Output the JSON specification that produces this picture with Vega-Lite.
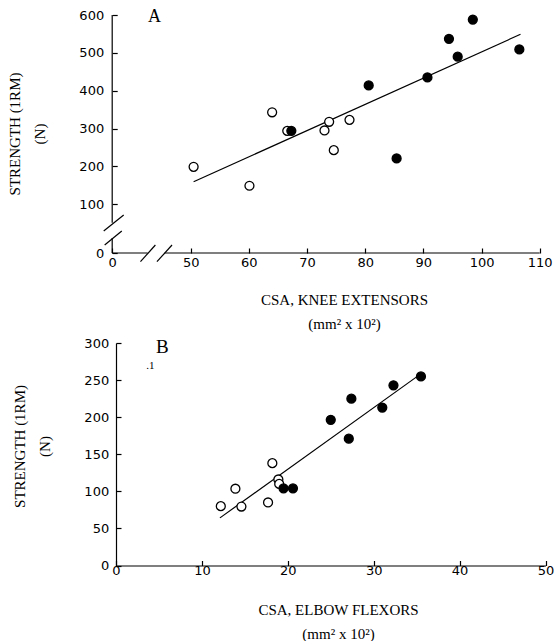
{
  "$schema": "https://vega.github.io/schema/vega-lite/v6.json",
  "background": "white",
  "padding": {"left": 7, "top": 7, "right": 0, "bottom": 0},
  "spacing": 6,
  "config": {
    "view": {"stroke": null},
    "axis": {
      "grid": false,
      "labelFont": "DejaVu Sans",
      "labelFontSize": 13,
      "labelColor": "black",
      "labelFlush": false,
      "titleFont": "Liberation Serif",
      "titleFontSize": 15,
      "titleFontWeight": "normal",
      "titleColor": "black",
      "titleLineHeight": 24,
      "domainColor": "black",
      "domainWidth": 1.2,
      "tickColor": "black",
      "tickWidth": 1.2,
      "tickSize": -5
    }
  },
  "datasets": {
    "kneePoints": [
      {"group": "open", "csa": 50.5, "strength": 199},
      {"group": "open", "csa": 60.1, "strength": 149},
      {"group": "open", "csa": 64.0, "strength": 343},
      {"group": "open", "csa": 66.6, "strength": 294},
      {"group": "open", "csa": 73.0, "strength": 295},
      {"group": "open", "csa": 73.8, "strength": 318},
      {"group": "open", "csa": 74.6, "strength": 243},
      {"group": "open", "csa": 77.3, "strength": 323},
      {"group": "filled", "csa": 67.3, "strength": 294},
      {"group": "filled", "csa": 80.6, "strength": 414},
      {"group": "filled", "csa": 85.4, "strength": 221},
      {"group": "filled", "csa": 90.7, "strength": 435},
      {"group": "filled", "csa": 94.4, "strength": 537},
      {"group": "filled", "csa": 95.9, "strength": 490},
      {"group": "filled", "csa": 98.5, "strength": 588},
      {"group": "filled", "csa": 106.5, "strength": 509}
    ],
    "kneeFit": [
      {"csa": 50.5, "strength": 159.7},
      {"csa": 106.7, "strength": 549}
    ],
    "kneeAxis": [
      {"part": "y axis low", "csa": 0, "strength": 0, "csa2": 0, "strength2": 31},
      {"part": "y axis high", "csa": 0, "strength": 62, "csa2": 0, "strength2": 600},
      {"part": "x axis left", "csa": 0, "strength": 0, "csa2": 22.6, "strength2": 0},
      {"part": "x axis right", "csa": 33.3, "strength": 0, "csa2": 110, "strength2": 0},
      {"part": "y break 1", "csa": -5.4, "strength": 45.2, "csa2": 7.3, "strength2": 78},
      {"part": "y break 2", "csa": -4.8, "strength": 16.4, "csa2": 6.1, "strength2": 45.2},
      {"part": "x break 1", "csa": 18.0, "strength": -17.9, "csa2": 27.5, "strength2": 16.4},
      {"part": "x break 2", "csa": 28.5, "strength": -17.9, "csa2": 38.1, "strength2": 16.4}
    ],
    "kneeText": [
      {"csa": 27, "strength": 595, "label": "A"}
    ],
    "elbowPoints": [
      {"group": "open", "csa": 12.2, "strength": 80},
      {"group": "open", "csa": 13.9, "strength": 103.5},
      {"group": "open", "csa": 14.6, "strength": 79.5},
      {"group": "open", "csa": 17.7, "strength": 85},
      {"group": "open", "csa": 18.2, "strength": 138},
      {"group": "open", "csa": 18.9, "strength": 116},
      {"group": "open", "csa": 19.0, "strength": 110},
      {"group": "filled", "csa": 19.5, "strength": 104},
      {"group": "filled", "csa": 20.6, "strength": 104},
      {"group": "filled", "csa": 25.0, "strength": 196.5},
      {"group": "filled", "csa": 27.1, "strength": 171},
      {"group": "filled", "csa": 27.4, "strength": 225},
      {"group": "filled", "csa": 31.0, "strength": 213},
      {"group": "filled", "csa": 32.3, "strength": 243},
      {"group": "filled", "csa": 35.5, "strength": 255}
    ],
    "elbowFit": [
      {"csa": 12.1, "strength": 64.2},
      {"csa": 35.2, "strength": 256}
    ],
    "elbowText": [
      {"csa": 5.4, "strength": 294, "label": "B", "size": "big"},
      {"csa": 4.0, "strength": 269, "label": ".1", "size": "small"}
    ]
  },
  "vconcat": [
    {
      "width": 424,
      "height": 238,
      "layer": [
        {
          "data": {"name": "kneeAxis"},
          "mark": {"type": "rule", "color": "black", "strokeWidth": 1.2},
          "encoding": {
            "x": {
              "field": "csa", "type": "quantitative",
              "scale": {"domain": [0, 50, 110], "range": [-3.8, 74.7, 423.7], "nice": false, "zero": false},
              "axis": {
                "title": ["CSA, KNEE EXTENSORS", "(mm² x 10²)"],
                "values": [0, 50, 60, 70, 80, 90, 100, 110],
                "tickCount": 8,
                "domain": false,
                "labelOverlap": false,
                "labelPadding": 8,
                "titlePadding": 23,
                "titleX": 228
              }
            },
            "y": {
              "field": "strength", "type": "quantitative",
              "scale": {"domain": [0, 100, 600], "range": [238, 189.3, 0], "nice": false, "zero": false},
              "axis": {
                "title": ["STRENGTH (1RM)", "(N)"],
                "values": [0, 100, 200, 300, 400, 500, 600],
                "tickCount": 7,
                "domain": false,
                "labelOverlap": false,
                "labelSeparation": 0,
                "offset": 3.8,
                "labelPadding": 13.5,
                "titlePadding": 31,
                "titleLineHeight": 25,
                "titleY": 118.5
              }
            },
            "x2": {"field": "csa2"},
            "y2": {"field": "strength2"}
          }
        },
        {
          "data": {"name": "kneeFit"},
          "mark": {"type": "line", "color": "black", "strokeWidth": 1.2},
          "encoding": {
            "x": {"field": "csa", "type": "quantitative"},
            "y": {"field": "strength", "type": "quantitative"}
          }
        },
        {
          "data": {"name": "kneePoints"},
          "mark": {"type": "point", "shape": "circle", "filled": true, "size": 80, "stroke": "black", "strokeWidth": 1.3, "opacity": 1},
          "encoding": {
            "x": {"field": "csa", "type": "quantitative"},
            "y": {"field": "strength", "type": "quantitative"},
            "fill": {"field": "group", "type": "nominal", "scale": {"domain": ["open", "filled"], "range": ["white", "black"]}, "legend": null}
          }
        },
        {
          "data": {"name": "kneeText"},
          "mark": {"type": "text", "font": "Liberation Serif", "fontSize": 18, "color": "black", "align": "center", "baseline": "middle"},
          "encoding": {
            "x": {"field": "csa", "type": "quantitative"},
            "y": {"field": "strength", "type": "quantitative"},
            "text": {"field": "label"}
          }
        }
      ]
    },
    {
      "width": 429.5,
      "height": 222.5,
      "layer": [
        {
          "data": {"name": "elbowFit"},
          "mark": {"type": "line", "color": "black", "strokeWidth": 1.2},
          "encoding": {
            "x": {
              "field": "csa", "type": "quantitative",
              "scale": {"domain": [0, 50], "nice": false, "zero": false},
              "axis": {
                "title": ["CSA, ELBOW FLEXORS", "(mm² x 10²)"],
                "values": [0, 10, 20, 30, 40, 50],
                "tickCount": 6,
                "labelOverlap": false,
                "labelPadding": 4,
                "titlePadding": 25,
                "titleX": 222
              }
            },
            "y": {
              "field": "strength", "type": "quantitative",
              "scale": {"domain": [0, 300], "nice": false, "zero": false},
              "axis": {
                "title": ["STRENGTH (1RM)", "(N)"],
                "values": [0, 50, 100, 150, 200, 250, 300],
                "tickCount": 7,
                "labelOverlap": false,
                "labelSeparation": 0,
                "labelPadding": 12.3,
                "titlePadding": 31,
                "titleLineHeight": 25,
                "titleY": 103
              }
            }
          }
        },
        {
          "data": {"name": "elbowPoints"},
          "mark": {"type": "point", "shape": "circle", "filled": true, "size": 80, "stroke": "black", "strokeWidth": 1.3, "opacity": 1},
          "encoding": {
            "x": {"field": "csa", "type": "quantitative"},
            "y": {"field": "strength", "type": "quantitative"},
            "fill": {"field": "group", "type": "nominal", "scale": {"domain": ["open", "filled"], "range": ["white", "black"]}, "legend": null}
          }
        },
        {
          "data": {"name": "elbowText"},
          "mark": {"type": "text", "font": "Liberation Serif", "color": "black", "align": "center", "baseline": "middle"},
          "encoding": {
            "x": {"field": "csa", "type": "quantitative"},
            "y": {"field": "strength", "type": "quantitative"},
            "text": {"field": "label"},
            "size": {"field": "size", "type": "nominal", "scale": {"domain": ["big", "small"], "range": [19, 11]}, "legend": null}
          }
        }
      ]
    }
  ]
}
